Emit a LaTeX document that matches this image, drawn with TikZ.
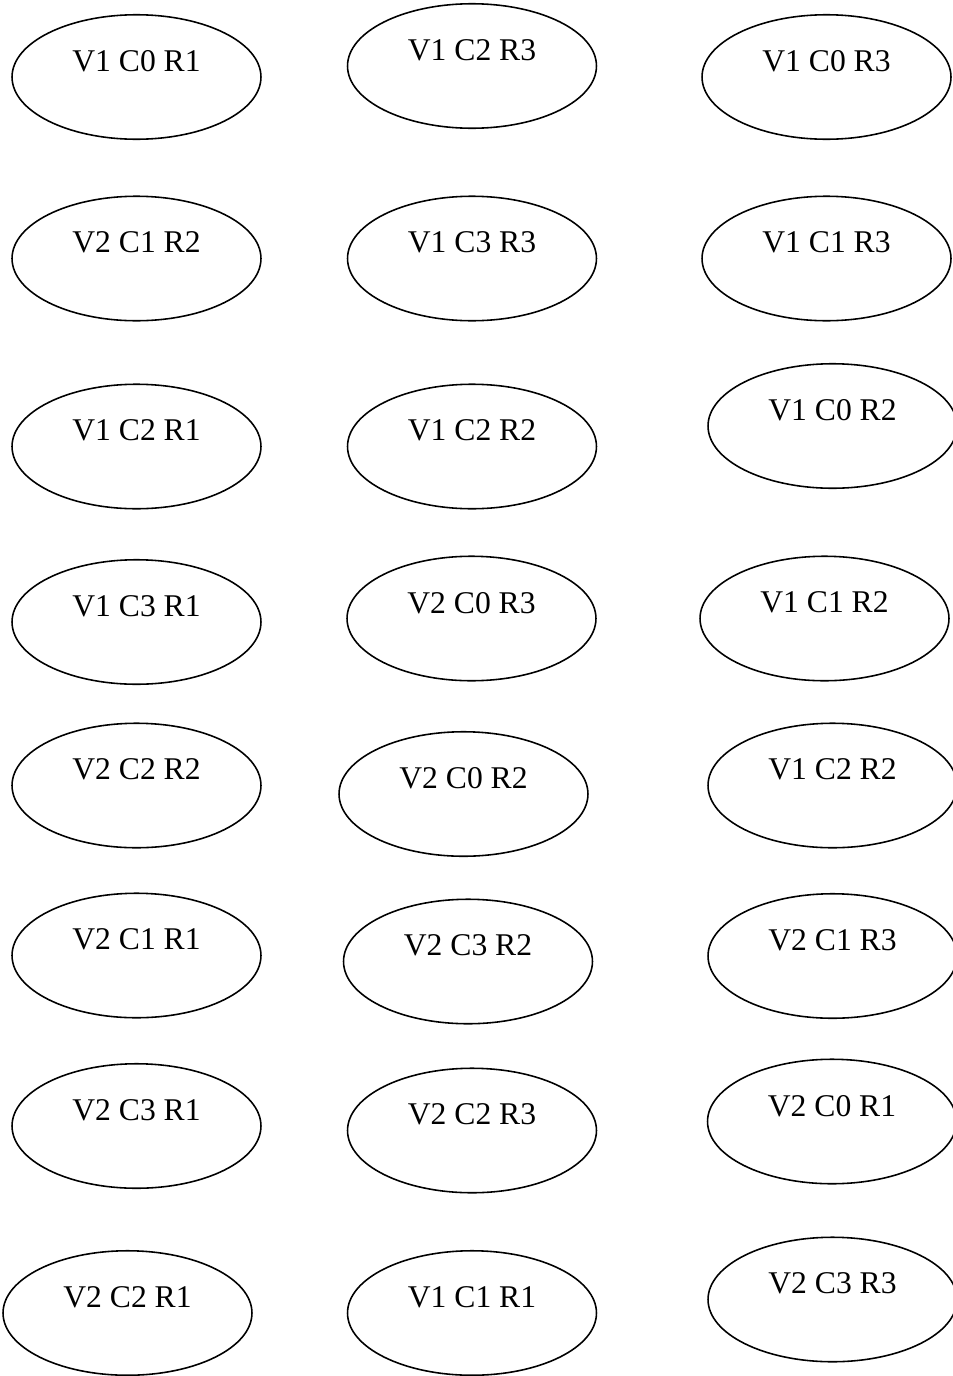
\documentclass[tikz,border=0pt]{standalone}
\usepackage{fontspec}
\setmainfont{Liberation Serif}
\usetikzlibrary{shapes.geometric}

\begin{document}
\begin{tikzpicture}[x=0.02cm, y=-0.02cm,
  font=\fontsize{18}{21}\selectfont,
  st/.style={draw, ellipse, line width=0.9pt, minimum width=4.98cm, minimum height=2.49cm, inner sep=1pt, text depth=0.64cm}]
\useasboundingbox (0,0) rectangle (953,1376);
% left column
\node[st] (v1c0r1) at (136.5,77) {V1 C0 R1};
\node[st] (v2c1r2) at (136.5,258.5) {V2 C1 R2};
\node[st] (v1c2r1) at (136.5,446.5) {V1 C2 R1};
\node[st] (v1c3r1) at (136.5,622) {V1 C3 R1};
\node[st] (v2c2r2) at (136.5,785.5) {V2 C2 R2};
\node[st] (v2c1r1) at (136.5,955.5) {V2 C1 R1};
\node[st] (v2c3r1) at (136.5,1126) {V2 C3 R1};
\node[st] (v2c2r1) at (127.5,1313) {V2 C2 R1};
% middle column
\node[st] (v1c2r3) at (472,66) {V1 C2 R3};
\node[st] (v1c3r3) at (472,258.5) {V1 C3 R3};
\node[st] (v1c2r2) at (472,446.5) {V1 C2 R2};
\node[st] (v2c0r3) at (471.5,618.5) {V2 C0 R3};
\node[st] (v2c0r2) at (463.5,794) {V2 C0 R2};
\node[st] (v2c3r2) at (468,961.5) {V2 C3 R2};
\node[st] (v2c2r3) at (472,1130.5) {V2 C2 R3};
\node[st] (v1c1r1) at (472,1313) {V1 C1 R1};
% right column
\node[st] (v1c0r3) at (826.5,77) {V1 C0 R3};
\node[st] (v1c1r3) at (826.5,258.5) {V1 C1 R3};
\node[st] (v1c0r2) at (832.5,426) {V1 C0 R2};
\node[st] (v1c1r2) at (824.5,618.5) {V1 C1 R2};
\node[st] (v1c2r2b) at (832.5,785.5) {V1 C2 R2};
\node[st] (v2c1r3) at (832.5,956) {V2 C1 R3};
\node[st] (v2c0r1) at (832,1121.5) {V2 C0 R1};
\node[st] (v2c3r3) at (832.5,1299.5) {V2 C3 R3};
\end{tikzpicture}
\end{document}
